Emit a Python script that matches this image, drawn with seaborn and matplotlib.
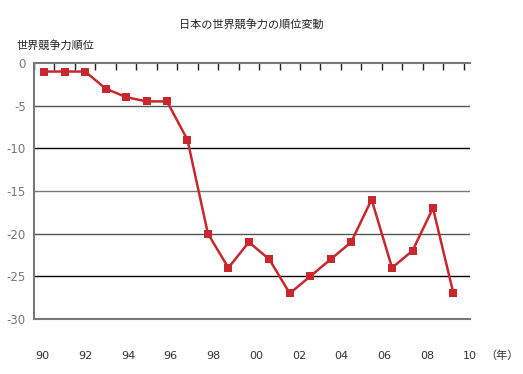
import pandas as pd
import matplotlib
matplotlib.use("Agg")
import matplotlib.pyplot as plt
import seaborn as sns

# data
years = list(range(1990, 2011))
ranks = [-1, -1, -1, -3, -4, -4.5, -4.5, -9, -20, -24, -21,
         -23, -27, -25, -23, -21, -16, -24, -22, -17, -27]
year_labels = ["90", "92", "94", "96", "98", "00", "02", "04", "06", "08", "10"]
y_ticks = [0, -5, -10, -15, -20, -25, -30]

sns.set_theme(style="white")
plt.rcParams["font.family"] = ["DejaVu Sans", "Noto Sans CJK JP"]

df = pd.DataFrame({"idx": range(len(years)), "year": years, "rank": ranks})

fig = plt.figure(figsize=(5.23, 3.74), dpi=100)
ax = fig.add_axes([34 / 523, 1 - 319 / 374, (470 - 34) / 523, (319 - 63) / 374])

sns.lineplot(data=df, x="idx", y="rank", ax=ax, color="#C8282D", linewidth=1.8,
             marker="s", markersize=5.5, markeredgewidth=0, zorder=5)

ax.set_xlim(-0.5, len(years) - 0.5)
ax.set_ylim(-30, 0)
ax.set_yticks(y_ticks)
ax.set_yticklabels([str(v) for v in y_ticks], fontsize=8.5, color="#777777")
ax.tick_params(axis="y", length=0, pad=6)

# horizontal grid lines
grid_colors = ["#555555", "#000000", "#777777", "#555555", "#000000"]
for v, c in zip(y_ticks[1:-1], grid_colors):
    ax.axhline(v, color=c, linewidth=1.0, zorder=1)

# bottom year labels, spaced independently from the category ticks
label_pos = [-0.09 + i * 2.09 for i in range(len(year_labels))]
ax.set_xticks(label_pos)
ax.set_xticklabels(year_labels, fontsize=8, color="#333333")
ax.tick_params(axis="x", length=0, pad=23)
ax.set_xlabel("")
ax.set_ylabel("")
ax.text(1.035, -0.145, "（年）", transform=ax.transAxes, fontsize=8,
        color="#333333", ha="left", va="center", family=["Noto Sans CJK JP"])

# top tick marks at category boundaries
top = ax.secondary_xaxis("top")
top.set_xticks([i - 0.5 for i in range(len(years) + 1)])
top.set_xticklabels([])
top.tick_params(direction="in", length=5, width=1, color="#222222")
top.spines["top"].set_visible(False)

for side in ["left", "bottom", "top"]:
    ax.spines[side].set_color("#777777")
    ax.spines[side].set_linewidth(1.5)
ax.spines["right"].set_visible(False)

fig.text(251 / 523, 1 - 24 / 374, "日本の世界競争力の順位変動", ha="center",
         va="center", fontsize=8, color="#222222", family=["Noto Sans CJK JP"])
fig.text(16 / 523, 1 - 45 / 374, "世界競争力順位", ha="left", va="center",
         fontsize=8, color="#222222", family=["Noto Sans CJK JP"])

fig.savefig("out.png", dpi=100)
